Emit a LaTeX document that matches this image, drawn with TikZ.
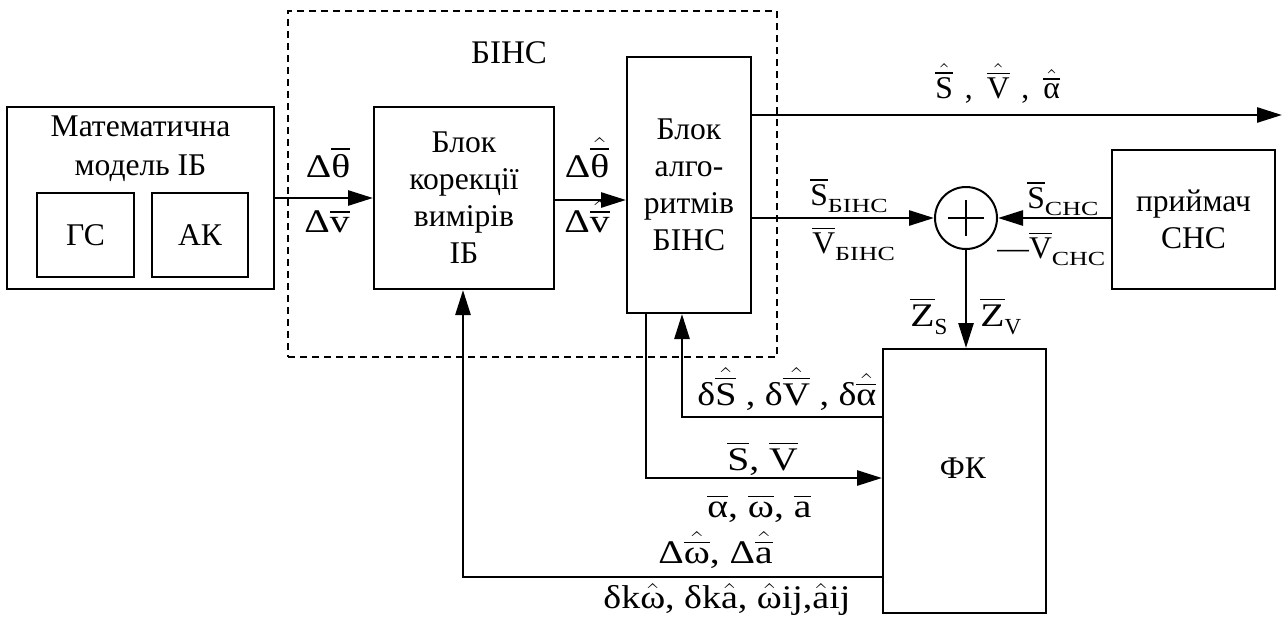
\documentclass[tikz,border=0pt]{standalone}
\usepackage{amsmath}
\usepackage{graphicx}
\usepackage{fontspec}
\setmainfont{Liberation Serif}
\usetikzlibrary{arrows.meta,calc}

% vector quantities: bar, estimated (hat over bar), hat only, subscripts
\newcommand\ob[1]{\ensuremath{\overline{\mbox{#1}}}}
\newcommand\hb[1]{\ensuremath{\hat{\overline{\mbox{#1}}}}}
\newcommand\hh[1]{\ensuremath{\hat{\mbox{#1}}}}
\newcommand\sbx[1]{\raisebox{-3.8pt}{\scalebox{1.3}[1]{\fontsize{10}{10}\selectfont #1}}}
\newcommand\sbz[1]{\raisebox{-4pt}{\fontsize{11.5}{11.5}\selectfont #1}}
% larger, slightly widened type for the formula labels
\newcommand\widetype[1]{\scalebox{1.2}[1]{\fontsize{16.5}{19}\selectfont #1}}
\newcommand\widetypeb[1]{\scalebox{1.15}[1]{\fontsize{16.5}{19}\selectfont #1}}

\begin{document}
\begin{tikzpicture}[x=0.5pt, y=-0.5pt,
  font=\fontsize{15.8}{18.5}\selectfont,
  box/.style={draw, line width=1pt, align=center, inner sep=0pt},
  frame/.style={draw, line width=0.8pt, dash pattern=on 3.5pt off 2.5pt, inner sep=0pt},
  arr/.style={line width=1.35pt, -{Triangle[length=12.5pt,width=7.5pt]}},
  lbl/.style={inner sep=0pt, anchor=base west}]
\useasboundingbox (0,0) rectangle (1283,621);

% BINS boundary
\node[frame, minimum width=244.5pt, minimum height=173pt] (bins) at (532.5,184) {};
\node[inner sep=0pt, anchor=base, font=\fontsize{16.5}{19}\selectfont] (binst) at (509,63) {БІНС};

% IMU model
\node[box, minimum width=133.5pt, minimum height=91pt] (mm) at (140.5,198) {};
\node[inner sep=0pt, anchor=base] (mmt1) at (140.5,136) {Математична};
\node[inner sep=0pt, anchor=base] (mmt2) at (140.5,175) {модель ІБ};
\node[box, minimum width=48.5pt, minimum height=42pt] (gs) at (85.5,235) {ГС};
\node[box, minimum width=48pt, minimum height=42pt] (ak) at (200,235) {АК};

% processing blocks
\node[box, minimum width=90pt, minimum height=91pt] (kor) at (464,198) {Блок\\корекції\\вимірів\\ІБ};
\node[box, minimum width=62pt, minimum height=128pt] (alg) at (689,185) {Блок\\алго-\\ритмів\\БІНС};
\node[box, minimum width=81.5pt, minimum height=69.5pt] (rcv) at (1193.5,219.5) {приймач\\СНС};
\node[box, minimum width=81.5pt, minimum height=132pt] (fk) at (964.5,481) {};
\node[inner sep=0pt] (fkt) at (963,468) {ФК};

% summing junction
\node[draw, circle, line width=1pt, minimum size=31pt, inner sep=0pt] (sum) at (966,218) {};
\draw[line width=1pt] ($(sum.center)+(-18,0)$) -- ($(sum.center)+(18,0)$)
                      ($(sum.center)+(0,-18)$) -- ($(sum.center)+(0,18)$);

% connection points
\coordinate (out) at (1282,115);
\coordinate (fb1) at (682,417);
\coordinate (sv)  at (646,478);
\coordinate (fb2) at (463,577);

% signal lines
\draw[arr] (mm.east) -- (kor.west);
\draw[arr] (kor.east |- 0,200) -- (alg.west |- 0,200);
\draw[arr] (alg.east |- out) -- (out);
\draw[arr] (alg.east |- sum) -- (sum.west);
\draw[arr] (rcv.west |- sum) -- (sum.east);
\draw[arr] (sum.south) -- (sum.south |- fk.north);
\draw[arr] (fk.west |- fb1) -- (fb1) -- (fb1 |- alg.south);
\draw[arr] (sv |- alg.south) -- (sv) -- (sv -| fk.west);
\draw[arr] (fk.west |- fb2) -- (fb2) -- (fb2 |- kor.south);

% signal labels
\node[lbl, anchor=base] (l1) at (328,177) {\widetype{Δ\ob{θ}}};
\node[lbl, anchor=base] (l2) at (327,232) {\widetype{Δ\ob{v}}};
\node[lbl, anchor=base] (l3) at (587,177) {\widetype{Δ\hb{θ}}};
\node[lbl, anchor=base] (l4) at (587,232) {\widetype{Δ\hb{v}}};
\node[lbl] (l5) at (935,98) {\hb{S}\hspace{2pt} ,\hspace{7pt}\hb{V}\hspace{2pt} ,\hspace{7pt}\hb{α}};
\node[lbl] (l6) at (810,205) {\ob{S}\sbx{БІНС}};
\node[lbl] (l7) at (812,253) {\ob{V}\sbx{БІНС}};
\node[lbl] (l8) at (1027,208) {\ob{S}\sbx{СНС}};
\node[lbl] (l9) at (997,258) {—\ob{V}\sbx{СНС}};
\node[lbl] (l10) at (910,326) {\widetype{\ob{Z}}\sbz{S}};
\node[lbl] (l11) at (980,326) {\widetype{\ob{Z}}\sbz{V}};
\node[lbl] (l12) at (697,405) {\widetypeb{δ\hb{S} , δ\hb{V} , δ\hb{α}}};
\node[lbl] (l13) at (727,470) {\widetype{\ob{S}, \ob{V}}};
\node[lbl] (l14) at (707,517) {\widetype{\ob{α}, \ob{ω}, \ob{a}}};
\node[lbl] (l15) at (658,563) {\widetype{Δ\hb{ω}, Δ\hb{a}}};
\node[lbl] (l16) at (603,608) {\widetypeb{δk\hh{ω}, δk\hh{a}, \hh{ω}ij,\hh{a}ij}};
\end{tikzpicture}
\end{document}
